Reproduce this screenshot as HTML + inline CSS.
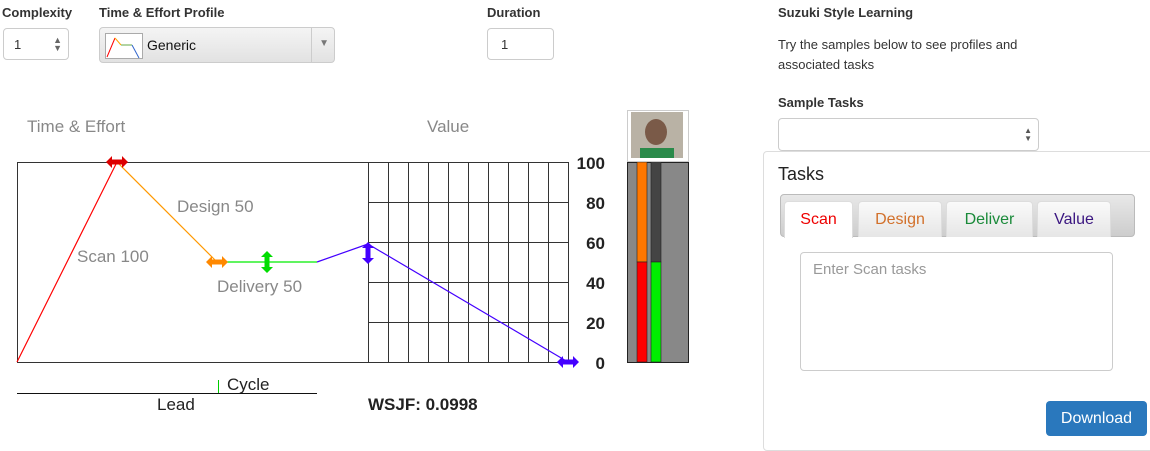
<!DOCTYPE html>
<html><head><meta charset="utf-8"><style>
body{margin:0;width:1150px;height:438px;overflow:hidden;background:#fff;font-family:"Liberation Sans",sans-serif;position:relative;color:#333}
.a{position:absolute}
.lbl{font-weight:bold;font-size:13px;color:#333}
.inp{border:1px solid #ccc;border-radius:4px;background:#fff;box-sizing:border-box;font-size:13px}
.tab{position:absolute;top:6px;height:36px;border:1px solid #ddd;border-bottom:none;border-radius:4px 4px 0 0;background:linear-gradient(#fafafa,#e6e6e6);box-sizing:border-box;font-size:16px;text-align:center;line-height:36px}
</style></head><body>
<div class="a lbl" style="left:2px;top:5px">Complexity</div>
<div class="a inp" style="left:3px;top:28px;width:66px;height:32px;padding:8px 10px">1<span style="position:absolute;right:6px;top:7px;font-size:9px;color:#666;line-height:8px">▲<br>▼</span></div>
<div class="a lbl" style="left:99px;top:5px">Time &amp; Effort Profile</div>
<div class="a inp" style="left:99px;top:27px;width:236px;height:36px;background:linear-gradient(#f4f4f4,#e2e2e2)">
<svg class="a" style="left:5px;top:5px" width="38" height="26"><rect x="0.5" y="0.5" width="37" height="25" fill="#fff" stroke="#aaa"/><polyline points="2,24 10,5" stroke="red" fill="none"/><polyline points="10,5 16,12" stroke="orange" fill="none"/><polyline points="16,12 27,12" stroke="#6a4" fill="none"/><polyline points="27,12 34,25" stroke="#36c" fill="none"/></svg>
<span class="a" style="left:47px;top:9px;font-size:14px;color:#111">Generic</span>
<div class="a" style="right:0;top:0;width:22px;height:34px;border-left:1px solid #ccc"></div>
<span class="a" style="right:5px;top:10px;font-size:10px;color:#777">▼</span></div>
<div class="a lbl" style="left:487px;top:5px">Duration</div>
<div class="a inp" style="left:487px;top:28px;width:67px;height:32px;padding:8px 13px">1</div>

<svg class="a" style="left:0;top:0" width="760" height="438" id="chart"></svg>

<div class="a lbl" style="left:778px;top:5px">Suzuki Style Learning</div>
<div class="a" style="left:778px;top:35px;font-size:13px;line-height:20px;color:#333">Try the samples below to see profiles and<br>associated tasks</div>
<div class="a lbl" style="left:778px;top:95px">Sample Tasks</div>
<div class="a inp" style="left:778px;top:118px;width:261px;height:33px"><span style="position:absolute;right:6px;top:8px;font-size:8px;color:#555;line-height:8px">▲<br>▼</span></div>
<div class="a" style="left:763px;top:151px;width:400px;height:300px;border:1px solid #ddd;border-radius:4px;box-sizing:border-box"></div>
<div class="a" style="left:778px;top:164px;font-size:18px;color:#222">Tasks</div>
<div class="a" style="left:780px;top:194px;width:355px;height:43px;border:1px solid #bbb;border-radius:4px;background:linear-gradient(#e8e8e8,#cdcdcd);box-sizing:border-box">
<div class="tab" style="left:3px;width:69px;background:#fff;color:#e00;height:37px">Scan</div>
<div class="tab" style="left:77px;width:84px;color:#d2702a">Design</div>
<div class="tab" style="left:165px;width:87px;color:#1a8a3a">Deliver</div>
<div class="tab" style="left:256px;width:74px;color:#3a1580">Value</div>
</div>
<div class="a inp" style="left:800px;top:252px;width:313px;height:119px;padding:8px 12px;font-size:15px;color:#999">Enter Scan tasks</div>
<div class="a" style="left:1046px;top:401px;width:101px;height:35px;background:#2a78bd;border-radius:4px;color:#fff;font-size:16px;text-align:center;line-height:35px">Download</div>

<script>
const xs=[0,1,2,3,3.51,5.51];
const ys=[0,100,50,50,59,0];
const segColors=['#f00','#f90','#0e0','#40f','#40f'];
const yTicks=[0,20,40,60,80,100];
const valueBars=[50,50];
const effortBars=[50,50];
const X=v=>17+v*100, Y=v=>362-v*2;
const svg=document.getElementById('chart');
const NS='http://www.w3.org/2000/svg';
function mk(t,a,txt){const e=document.createElementNS(NS,t);for(const k in a)e.setAttribute(k,a[k]);if(txt!=null)e.textContent=txt;svg.appendChild(e);return e;}
let e;
e=mk('rect',{x:17.5,y:Y(100)+.5,width:551,height:200,fill:'none',stroke:'#333'});


for(let i=0;i<=10;i++){e=mk('line',{x1:368.5+i*20,x2:368.5+i*20,y1:Y(100),y2:Y(0),stroke:'#333'});

}
yTicks.forEach(t=>{e=mk('line',{x1:368,x2:569,y1:Y(t)+.5,y2:Y(t)+.5,stroke:'#333'});


e=mk('text',{x:605,y:Y(t)+7,'text-anchor':'end','font-size':17,fill:'#222','font-weight':'bold'},t);

});
for(let i=0;i<xs.length-1;i++){e=mk('line',{x1:X(xs[i]),y1:Y(ys[i]),x2:X(xs[i+1]),y2:Y(ys[i+1]),stroke:segColors[i],'stroke-width':1.2});

}
function hArrow(cx,cy,c){const p=`${cx-11},${cy} ${cx-5},${cy-6} ${cx-5},${cy-2.5} ${cx+5},${cy-2.5} ${cx+5},${cy-6} ${cx+11},${cy} ${cx+5},${cy+6} ${cx+5},${cy+2.5} ${cx-5},${cy+2.5} ${cx-5},${cy+6}`;return mk('polygon',{points:p,fill:c});}
function vArrow(cx,cy,c){const p=`${cx},${cy-11} ${cx+6},${cy-5} ${cx+2.5},${cy-5} ${cx+2.5},${cy+5} ${cx+6},${cy+5} ${cx},${cy+11} ${cx-6},${cy+5} ${cx-2.5},${cy+5} ${cx-2.5},${cy-5} ${cx-6},${cy-5}`;return mk('polygon',{points:p,fill:c});}
e=hArrow(X(xs[1]),Y(ys[1]),'#d00');
e=hArrow(X(xs[2]),Y(ys[2]),'#f80');
e=vArrow(X((xs[2]+xs[3])/2),Y(ys[2]),'#0d0');
e=vArrow(X(xs[4]),Y(ys[4])+9,'#40f');
e=hArrow(X(xs[5]),Y(ys[5]),'#40f');
const T=(x,y,s,t,n,o)=>{e=mk('text',Object.assign({x:x,y:y,'font-size':s,fill:'#888'},o||{}),t);};
T(27,132,17,'Time & Effort','time-effort-title');
T(427,132,17,'Value','value-title');
T(77,262,17,'Scan 100','scan-label');
T(177,212,17,'Design 50','design-label');
T(217,292,17,'Delivery 50','delivery-label');
T(227,390,17,'Cycle','cycle-label',{fill:'#222'});
T(157,410,17,'Lead','lead-label',{fill:'#222'});
T(368,410,17,'WSJF: 0.0998','wsjf-label',{fill:'#222','font-weight':'bold'});
e=mk('line',{x1:17,x2:317,y1:393.5,y2:393.5,stroke:'#111'});
e=mk('line',{x1:218.5,x2:218.5,y1:380,y2:393,stroke:'#0c0'});
e=mk('rect',{x:627.5,y:Y(100)+.5,width:61,height:200,fill:'#888',stroke:'#222'});
e=mk('rect',{x:637,y:Y(100),width:10,height:200-valueBars[0]*2,fill:'#f70',stroke:'#222','stroke-width':.6});
e=mk('rect',{x:637,y:Y(valueBars[0]),width:10,height:valueBars[0]*2,fill:'#f00',stroke:'#222','stroke-width':.6});
e=mk('rect',{x:651,y:Y(100),width:10,height:200-effortBars[1]*2,fill:'#444',stroke:'#222','stroke-width':.6});
e=mk('rect',{x:651,y:Y(effortBars[1]),width:10,height:effortBars[1]*2,fill:'#0e0',stroke:'#222','stroke-width':.6});
e=mk('rect',{x:627.5,y:110.5,width:61,height:51,fill:'#fff',stroke:'#ccc'});
e=mk('rect',{x:631,y:112,width:52,height:46,fill:'#b9b2a5'});
mk('ellipse',{cx:656,cy:132,rx:11,ry:13,fill:'#7a5a48'});
mk('rect',{x:640,y:148,width:34,height:10,fill:'#2a8a4a'});
</script>
</body></html>
